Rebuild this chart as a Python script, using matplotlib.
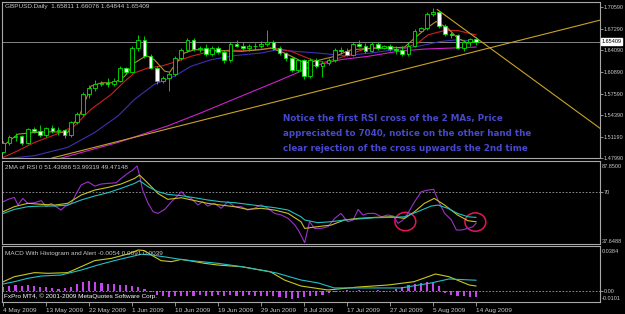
import matplotlib
matplotlib.use("Agg")
import matplotlib.pyplot as plt
from matplotlib.patches import Rectangle, Ellipse

# ---- GBPUSD daily bars, 4 May - 14 Aug 2009 (bar index 0..77) ----
opens = [1.4890, 1.5030, 1.5110, 1.5130, 1.5020, 1.5230, 1.5210, 1.5150, 1.5250, 1.5200,
         1.5220, 1.5140, 1.5340, 1.5450, 1.5750, 1.5850, 1.5910, 1.5920, 1.5900, 1.5950,
         1.6140, 1.6080, 1.6440, 1.6560, 1.6320, 1.6150, 1.5950, 1.6000, 1.6050, 1.6300,
         1.6420, 1.6570, 1.6430, 1.6440, 1.6360, 1.6450, 1.6390, 1.6260, 1.6500, 1.6480,
         1.6440, 1.6470, 1.6480, 1.6500, 1.6530, 1.6450, 1.6370, 1.6290, 1.6110, 1.6260,
         1.6020, 1.6270, 1.6180, 1.6220, 1.6260, 1.6420, 1.6400, 1.6340, 1.6500, 1.6480,
         1.6400, 1.6510, 1.6440, 1.6470, 1.6430, 1.6420, 1.6350, 1.6480, 1.6700, 1.6740,
         1.6950, 1.6990, 1.6770, 1.6650, 1.6640, 1.6450, 1.6530, 1.65811]
highs = [1.5060, 1.5150, 1.5170, 1.5140, 1.5250, 1.5260, 1.5300, 1.5270, 1.5290, 1.5260,
         1.5240, 1.5360, 1.5480, 1.5780, 1.5890, 1.5960, 1.5950, 1.5990, 1.6000, 1.6170,
         1.6160, 1.6470, 1.6640, 1.6620, 1.6360, 1.6180, 1.6020, 1.6090, 1.6330, 1.6450,
         1.6600, 1.6590, 1.6480, 1.6510, 1.6480, 1.6470, 1.6410, 1.6540, 1.6560, 1.6530,
         1.6500, 1.6520, 1.6550, 1.6720, 1.6560, 1.6480, 1.6380, 1.6310, 1.6280, 1.6280,
         1.6290, 1.6300, 1.6250, 1.6300, 1.6450, 1.6460, 1.6440, 1.6530, 1.6560, 1.6520,
         1.6540, 1.6530, 1.6490, 1.6500, 1.6480, 1.6470, 1.6530, 1.6730, 1.6760, 1.6980,
         1.7043, 1.7000, 1.6800, 1.6680, 1.6650, 1.6560, 1.6600, 1.66076]
lows = [1.4870, 1.5000, 1.5060, 1.5000, 1.5010, 1.5180, 1.5120, 1.5110, 1.5170, 1.5150,
        1.5100, 1.5110, 1.5310, 1.5430, 1.5700, 1.5800, 1.5870, 1.5860, 1.5880, 1.5930,
        1.6050, 1.6070, 1.6400, 1.6300, 1.6130, 1.5900, 1.5920, 1.5800, 1.6020, 1.6260,
        1.6390, 1.6400, 1.6380, 1.6330, 1.6330, 1.6360, 1.6220, 1.6240, 1.6460, 1.6410,
        1.6400, 1.6420, 1.6440, 1.6470, 1.6420, 1.6340, 1.6250, 1.6080, 1.6090, 1.5980,
        1.6000, 1.6150, 1.6010, 1.6190, 1.6240, 1.6360, 1.6320, 1.6320, 1.6460, 1.6370,
        1.6380, 1.6420, 1.6430, 1.6400, 1.6360, 1.6320, 1.6330, 1.6460, 1.6680, 1.6720,
        1.6920, 1.6740, 1.6620, 1.6600, 1.6430, 1.6400, 1.6470, 1.64844]
closes = [1.5030, 1.5110, 1.5130, 1.5020, 1.5230, 1.5210, 1.5150, 1.5250, 1.5200, 1.5220,
          1.5140, 1.5340, 1.5450, 1.5750, 1.5850, 1.5910, 1.5920, 1.5900, 1.5950, 1.6140,
          1.6080, 1.6440, 1.6560, 1.6320, 1.6150, 1.5950, 1.6000, 1.6050, 1.6300, 1.6420,
          1.6570, 1.6430, 1.6440, 1.6360, 1.6450, 1.6390, 1.6260, 1.6500, 1.6480, 1.6440,
          1.6470, 1.6480, 1.6500, 1.6530, 1.6450, 1.6370, 1.6290, 1.6110, 1.6260, 1.6020,
          1.6270, 1.6180, 1.6220, 1.6260, 1.6420, 1.6400, 1.6340, 1.6500, 1.6480, 1.6400,
          1.6510, 1.6440, 1.6470, 1.6430, 1.6420, 1.6350, 1.6480, 1.6700, 1.6740, 1.6950,
          1.6990, 1.6770, 1.6650, 1.6640, 1.6450, 1.6530, 1.6580, 1.65409]

# moving averages on the price chart (bar index, price)
ma_fast_idx = [0, 2.4, 5.1, 7.8, 10.5, 12.5, 14.3, 16.0, 18.1, 19.8, 21.4, 23.3, 24.6, 26.3,
               27.1, 28.2, 29.5, 31.2, 35.0, 38.8, 42.0, 43.6, 45.8, 47.5, 49.1, 50.7, 54.0,
               56.7, 60.5, 63.2, 65.4, 66.4, 68.6, 70.5, 72.4, 74.0, 75.7, 77.0]
ma_fast_val = [1.4983, 1.5156, 1.5181, 1.5191, 1.5181, 1.5450, 1.5875, 1.5924, 1.5924, 1.6023,
               1.6222, 1.6331, 1.6271, 1.6098, 1.6083, 1.6222, 1.6370, 1.6420, 1.6405, 1.6395,
               1.6420, 1.6445, 1.6370, 1.6296, 1.6221, 1.6246, 1.6320, 1.6419, 1.6444, 1.6444,
               1.6459, 1.6543, 1.6717, 1.6841, 1.6741, 1.6593, 1.6518, 1.6543]
ma_red_idx = [0, 2.4, 5.1, 9.4, 11.6, 14.3, 17.6, 19.8, 21.4, 23.6, 25.7, 28.4, 30.6, 33.3,
              36.6, 39.8, 42.6, 44.2, 46.9, 50.2, 52.3, 55.6, 58.8, 63.2, 65.4, 67.5, 69.2,
              71.9, 74.0, 76.2, 77.0]
ma_red_val = [1.4809, 1.4908, 1.5032, 1.5181, 1.5280, 1.5528, 1.5751, 1.5949, 1.6073, 1.6147,
              1.6172, 1.6247, 1.6321, 1.6385, 1.6410, 1.6410, 1.6430, 1.6445, 1.6395, 1.6271,
              1.6231, 1.6320, 1.6429, 1.6459, 1.6444, 1.6518, 1.6642, 1.6707, 1.6707, 1.6657,
              1.6642]
ma_blue_idx = [0, 5.1, 10.5, 14.9, 18.7, 21.4, 24.6, 27.9, 30.6, 33.9, 37.7, 42.0, 44.7, 47.5,
               51.2, 55.6, 59.9, 63.7, 67.5, 71.3, 74.0, 77.0]
ma_blue_val = [1.4785, 1.4834, 1.4958, 1.5181, 1.5429, 1.5677, 1.5900, 1.6023, 1.6172, 1.6271,
               1.6331, 1.6370, 1.6420, 1.6395, 1.6370, 1.6330, 1.6370, 1.6419, 1.6469, 1.6543,
               1.6568, 1.6543]
ma_slow_idx = [8.9, 18.7, 26.8, 32.3, 38.8, 44.7, 48.5, 50.2, 55.0, 59.4, 64.3, 68.6, 73.0, 77.0]
ma_slow_val = [1.4785, 1.5032, 1.5280, 1.5478, 1.5726, 1.5949, 1.6098, 1.6172, 1.6271, 1.6320,
               1.6395, 1.6429, 1.6444, 1.6459]

# trend lines (two anchor points each)
up_line_idx = [7.3, 97.4]
up_line_val = [1.4784, 1.6866]
down_line_idx = [70.7, 97.4]
down_line_val = [1.7020, 1.5230]

# ---- 2MA of RSI ----
rsi_idx = [0, 0.8, 1.8, 2.4, 3.2, 4.0, 5.1, 6.2, 7.0, 7.8,
           9.4, 10.0, 11.1, 11.9, 12.7, 13.8, 14.9, 16.0, 17.1, 18.4,
           19.2, 20.3, 21.1, 21.8, 22.2, 22.7, 23.6, 24.4, 25.2, 26.3,
           27.4, 28.5, 29.0, 29.8, 30.6, 31.7, 32.5, 33.3, 34.4, 35.5,
           36.6, 37.7, 38.8, 39.8, 40.9, 42.0, 43.1, 44.2, 45.3, 46.4,
           47.5, 48.2, 49.1, 49.9, 50.7, 51.8, 52.9, 54.0, 55.0, 56.1,
           57.0, 57.8, 58.6, 59.4, 60.5, 61.6, 62.6, 63.5, 64.3, 65.1,
           65.9, 67.0, 68.1, 69.2, 70.1, 70.8, 71.9, 73.0, 73.8, 74.6,
           75.7, 76.5, 77.0]
rsi_val = [64.1, 65.6, 66.8, 62.1, 66.2, 63.1, 63.5, 64.8, 61.0, 63.1,
           58.9, 61.0, 63.1, 69.3, 74.6, 76.6, 73.9, 75.2, 75.6, 76.0,
           78.7, 81.9, 83.9, 86.5, 80.8, 71.4, 63.1, 57.9, 56.8, 59.3,
           64.1, 68.3, 70.4, 67.3, 66.2, 62.1, 64.1, 61.4, 63.1, 60.0,
           64.1, 61.0, 61.0, 58.9, 60.0, 62.1, 60.0, 56.8, 55.8, 53.7,
           49.5, 45.4, 38.5, 51.6, 47.4, 47.4, 48.5, 53.7, 56.8, 51.6,
           52.7, 59.3, 55.8, 56.8, 56.8, 54.7, 55.8, 55.2, 50.6, 52.7,
           56.8, 64.1, 70.4, 71.4, 71.9, 65.2, 56.8, 52.7, 46.4, 46.4,
           47.4, 48.5, 50.6]
rsi_ma_idx = [0, 1.8, 4.0, 6.2, 8.4, 10.5, 12.7, 14.9, 17.1, 19.2,
              21.4, 22.2, 23.6, 25.2, 26.8, 29.0, 31.2, 33.3, 35.5, 37.7,
              39.8, 42.0, 44.2, 46.4, 48.5, 49.1, 51.2, 53.4, 55.6, 57.8,
              60.5, 63.2, 65.4, 67.0, 68.6, 70.2, 71.9, 74.0, 75.7, 77.0]
rsi_ma_fast = [57.9, 61.0, 63.1, 62.5, 62.0, 63.1, 68.3, 71.4, 73.1, 75.2,
               78.7, 80.8, 75.6, 69.3, 65.6, 66.6, 64.8, 63.1, 62.0, 61.0,
               59.3, 60.0, 58.9, 56.8, 51.6, 47.4, 48.5, 49.5, 52.7, 53.7,
               54.3, 54.7, 53.7, 57.9, 63.1, 66.2, 62.0, 55.8, 52.2, 51.6]
rsi_ma_slow_idx = [0, 1.8, 4.0, 6.2, 8.4, 10.5, 12.7, 14.9, 17.1, 19.2,
                   21.4, 22.2, 23.6, 25.2, 26.8, 29.0, 31.2, 33.3, 35.5, 37.7,
                   39.8, 42.0, 44.2, 46.4, 48.5, 49.1, 51.2, 53.4, 55.6, 57.8,
                   60.5, 63.2, 65.4, 67.5, 69.7, 70.8, 72.4, 74.0, 75.7, 77.0]
rsi_ma_slow = [56.8, 59.3, 61.0, 61.4, 61.4, 62.0, 65.2, 67.7, 69.8, 72.5,
               75.6, 77.3, 73.5, 70.4, 68.7, 67.9, 66.6, 65.2, 64.1, 63.5,
               62.5, 61.4, 60.4, 58.9, 54.7, 52.7, 51.0, 51.6, 52.7, 53.3,
               54.1, 54.3, 54.7, 57.9, 61.4, 62.0, 60.0, 56.8, 54.7, 54.3]
circle_idx = [65.5, 76.9]
circle_val = [51.7, 51.4]

# ---- MACD with histogram ----
macd_idx = [0, 1.8, 5.1, 7.3, 10.5, 12.7, 14.9, 17.6, 20.3, 22.0,
            23.0, 24.1, 25.7, 27.4, 29.0, 30.6, 32.8, 35.0, 38.9, 43.5,
            45.8, 48.5, 52.9, 57.8, 62.7, 66.9, 70.4, 72.6, 75.9, 77.0]
macd_val = [0.0078, 0.0122, 0.0158, 0.0152, 0.0158, 0.0211, 0.0264, 0.0284, 0.0322, 0.0358,
            0.0352, 0.0314, 0.0264, 0.0255, 0.0275, 0.0261, 0.0240, 0.0225, 0.0210, 0.0166,
            0.0093, 0.0040, 0.0005, 0.0031, 0.0049, 0.0078, 0.0146, 0.0122, 0.0049, 0.0040]
signal_idx = [0, 1.8, 4.0, 6.2, 9.4, 12.7, 15.4, 18.1, 20.8, 22.5,
              24.1, 26.8, 29.5, 32.3, 35.0, 38.9, 44.5, 48.5, 51.3, 53.9,
              59.4, 64.8, 69.7, 72.6, 77.0]
signal_val = [0.0058, 0.0078, 0.0108, 0.0128, 0.0137, 0.0181, 0.0225, 0.0264, 0.0299, 0.0320,
              0.0314, 0.0293, 0.0270, 0.0255, 0.0240, 0.0210, 0.0155, 0.0093, 0.0067, 0.0023,
              0.0023, 0.0023, 0.0067, 0.0102, 0.0091]
hist_val = [0.0035, 0.0040, 0.0045, 0.0040, 0.0045, 0.0040, 0.0035, 0.0030,
            0.0020, 0.0015, 0.0020, 0.0030,
            0.0060, 0.0075, 0.0080, 0.0075, 0.0070,
            0.0060, 0.0055, 0.0050, 0.0045,
            0.0040, 0.0030, 0.0015, -0.0010,
            -0.0040, -0.0050, -0.0055, -0.0050, -0.0045, -0.0050, -0.0045, -0.0040, -0.0050,
            -0.0045, -0.0040,
            -0.0045, -0.0040, -0.0050, -0.0045, -0.0040, -0.0045, -0.0050, -0.0045, -0.0050,
            -0.0055,
            -0.0065, -0.0075, -0.0070,
            -0.0060, -0.0050, -0.0045, -0.0035, -0.0020,
            -0.0010, -0.0005, 0.0003, -0.0005, 0.0005, -0.0008, -0.0005, 0.0005, -0.0010,
            -0.0005, 0.0010,
            0.0030, 0.0045, 0.0060, 0.0070, 0.0075, 0.0065, 0.0040,
            -0.0020, -0.0035, -0.0045, -0.0050, -0.0055, -0.0054]

date_idx = [0, 7, 14, 21, 28, 35, 42, 49, 56, 63, 70, 77]
date_labels = ["4 May 2009", "13 May 2009", "22 May 2009", "1 Jun 2009", "10 Jun 2009",
               "19 Jun 2009", "29 Jun 2009", "8 Jul 2009", "17 Jul 2009", "27 Jul 2009",
               "5 Aug 2009", "14 Aug 2009"]
price_ticks = [1.7059, 1.6729, 1.6409, 1.6089, 1.5759, 1.5439, 1.5119, 1.4799]
price_labels = ["1.70590", "1.67290", "1.64090", "1.60890", "1.57590", "1.54390",
                "1.51190", "1.47990"]

note_lines = ["Notice the first RSI cross of the 2 MAs, Price",
              "appreciated to 7040, notice on the other hand the",
              "clear rejection of the cross upwards the 2nd time"]

W, H = 625, 314
TXT = "#c8c8c8"
EDGE = "#a8a8a8"
FS = 4.6      # small chart text
FS_R = 4.0    # right-hand scale labels
plt.rcParams["font.family"] = ["Liberation Sans", "DejaVu Sans"]

fig = plt.figure(figsize=(W / 100, H / 100), dpi=100, facecolor="black")


def panel(x0, y0, x1, y1):
    ax = fig.add_axes([x0 / W, 1 - y1 / H, (x1 - x0) / W, (y1 - y0) / H])
    ax.set_facecolor("black")
    for s in ax.spines.values():
        s.set_color(EDGE)
        s.set_linewidth(0.8)
    ax.set_xlim(-0.2, 97.2)
    ax.yaxis.tick_right()
    ax.tick_params(axis="y", colors=TXT, labelsize=FS_R, length=2, width=0.5, pad=0.8)
    ax.tick_params(axis="x", colors=TXT, labelsize=FS, length=3, width=0.5, pad=1)
    ax.set_xticks([])
    return ax


ax = panel(2, 2, 600, 158)
ax_rsi = panel(2, 161, 600, 244)
ax_macd = panel(2, 246, 600, 302)

# ---- price panel ----
ax.set_ylim(1.4799, 1.7133)
ax.set_yticks(price_ticks)
ax.set_yticklabels(price_labels)
ax.axhline(closes[-1], color="#9a9a9a", lw=0.6)

ax.plot(ma_slow_idx, ma_slow_val, color="#cc22cc", lw=0.8)
ax.plot(ma_blue_idx, ma_blue_val, color="#3f30b4", lw=0.8)
ax.plot(ma_red_idx, ma_red_val, color="#cc2020", lw=0.8)
ax.plot(ma_fast_idx, ma_fast_val, color="#a89030", lw=0.8)
ax.axline((up_line_idx[0], up_line_val[0]), (up_line_idx[1], up_line_val[1]),
          color="#c9a227", lw=0.8)
ax.plot(down_line_idx, down_line_val, color="#c9a227", lw=0.8)

for i in range(len(closes)):
    o, h, l, c = opens[i], highs[i], lows[i], closes[i]
    ax.vlines(i, l, h, color="#00e800", lw=0.6, zorder=3)
    face = "black" if c >= o else "white"
    body = max(abs(c - o), 0.0004)
    ax.add_patch(Rectangle((i - 0.3, min(o, c)), 0.6, body, facecolor=face,
                           edgecolor="#00e800", lw=0.6, zorder=4))

ax.text(0.005, 0.968, "GBPUSD.Daily  1.65811 1.66076 1.64844 1.65409", color=TXT,
        fontsize=FS, transform=ax.transAxes, va="center")
ax.text(1.003, closes[-1], "1.65409", color="black", fontsize=FS_R, va="center",
        transform=ax.get_yaxis_transform(), clip_on=False,
        bbox=dict(facecolor="white", edgecolor="white", pad=0.5))
for k, line in enumerate(note_lines):
    ax.text(0.47, 0.256 - k * 0.096, line, color="#4848cc", fontsize=6.3,
            fontweight="bold", family="DejaVu Sans", transform=ax.transAxes, va="center")

# ---- RSI panel ----
ax_rsi.set_ylim(37.65, 89.6)
ax_rsi.set_yticks([70])
ax_rsi.set_yticklabels(["70"])
ax_rsi.axhline(70, color="#a0a0a0", lw=0.6, ls=(0, (2, 2)))
ax_rsi.plot(rsi_idx, rsi_val, color="#9a32c8", lw=0.8)
ax_rsi.plot(rsi_ma_idx, rsi_ma_fast, color="#c8c020", lw=0.8)
ax_rsi.plot(rsi_ma_slow_idx, rsi_ma_slow, color="#20c0c0", lw=0.8)
for cx, cy in zip(circle_idx, circle_val):
    ax_rsi.add_patch(Ellipse((cx, cy), 3.4, 11.5, fill=False, edgecolor="#e8145a", lw=1.1))
ax_rsi.text(0.005, 0.92, "2MA of RSI 0 51.43686 53.99319 49.47148", color=TXT,
            fontsize=FS, transform=ax_rsi.transAxes, va="center")
ax_rsi.text(1.003, 0.928, "87.8500", color=TXT, fontsize=FS_R, va="center",
            transform=ax_rsi.transAxes, clip_on=False)
ax_rsi.text(1.003, 0.036, "37.6488", color=TXT, fontsize=FS_R, va="center",
            transform=ax_rsi.transAxes, clip_on=False)

# ---- MACD panel ----
ax_macd.set_ylim(-0.0101, 0.0393)
ax_macd.set_yticks([0])
ax_macd.set_yticklabels(["0.00"])
ax_macd.axhline(0, color="#a0a0a0", lw=0.6, ls=(0, (2, 2)))
ax_macd.bar(range(len(hist_val)), hist_val, width=0.35, color="#c048e8")
ax_macd.plot(macd_idx, macd_val, color="#c8c820", lw=0.8)
ax_macd.plot(signal_idx, signal_val, color="#20c0c8", lw=0.8)
ax_macd.text(0.005, 0.875, "MACD With Histogram and Alert -0.0054 0.0091 0.0039",
             color=TXT, fontsize=FS, transform=ax_macd.transAxes, va="center")
ax_macd.text(0.003, 0.107, "FxPro MT4, \u00a9 2001-2009 MetaQuotes Software Corp.",
             color="white", fontsize=FS, transform=ax_macd.transAxes, va="center")
ax_macd.text(1.003, 0.893, "0.0384", color=TXT, fontsize=FS_R, va="center",
             transform=ax_macd.transAxes, clip_on=False)
ax_macd.text(1.003, 0.071, "-0.0101", color=TXT, fontsize=FS_R, va="center",
             transform=ax_macd.transAxes, clip_on=False)
ax_macd.set_xticks(date_idx)
ax_macd.set_xticklabels(date_labels, ha="left")

fig.savefig("out.png", dpi=100, facecolor="black")
